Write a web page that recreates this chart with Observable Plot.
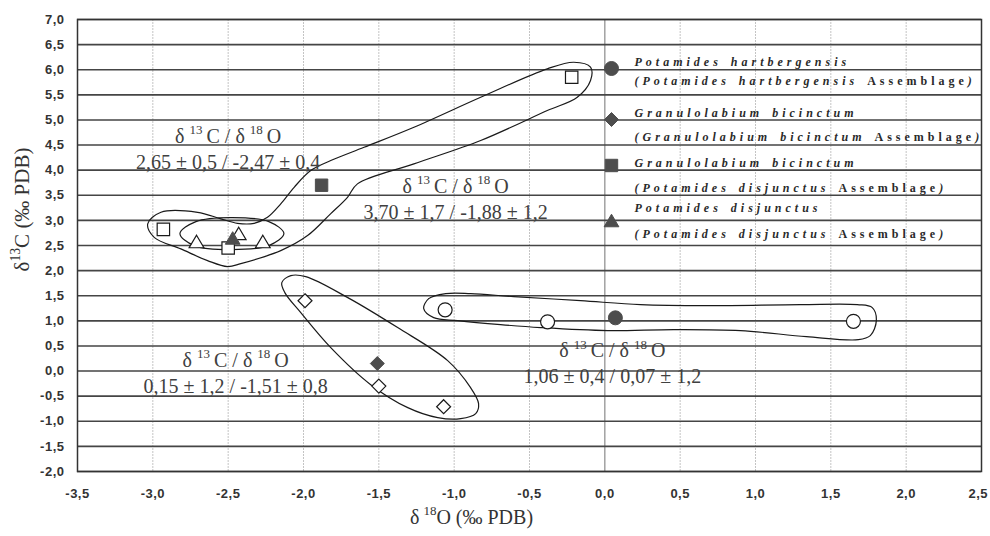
<!DOCTYPE html>
<html><head><meta charset="utf-8">
<script src="https://cdn.jsdelivr.net/npm/d3@7"></script>
<script src="https://cdn.jsdelivr.net/npm/@observablehq/plot@0.6"></script>
<style>html,body{margin:0;padding:0;background:#fff;} #chart{width:990px;height:536px;position:relative;}</style>
</head><body><div id="chart"></div>
<script>
// ---- axes ----
const xTicks = [-3.5,-3.0,-2.5,-2.0,-1.5,-1.0,-0.5,0.0,0.5,1.0,1.5,2.0,2.5];
const yTicks = [-2.0,-1.5,-1.0,-0.5,0.0,0.5,1.0,1.5,2.0,2.5,3.0,3.5,4.0,4.5,5.0,5.5,6.0,6.5,7.0];
const xTitle = "δ\u2009^18O (‰ PDB)";
const yTitle = "δ^13C (‰ PDB)";

// ---- individual samples (open symbols): δ18O, δ13C ----
// Potamides hartbergensis Assemblage (open circles)
const hartbergensisO = [-1.06, -0.38, 1.65];
const hartbergensisC = [1.22, 0.98, 0.99];
// Granulolabium bicinctum Assemblage (open diamonds)
const bicinctumO = [-1.99, -1.50, -1.07];
const bicinctumC = [1.40, -0.30, -0.71];
// Granulolabium bicinctum, Potamides disjunctus Assemblage (open squares)
const bicinctumPdO = [-2.93, -2.50, -0.22];
const bicinctumPdC = [2.82, 2.45, 5.85];
// Potamides disjunctus, Potamides disjunctus Assemblage (open triangles)
const disjunctusO = [-2.71, -2.43, -2.27];
const disjunctusC = [2.58, 2.74, 2.58];

// ---- group means (filled symbols) and SDs ----
const meanGroups = ["P. hartbergensis", "G. bicinctum (G.b.)", "G. bicinctum (P.d.)", "P. disjunctus"];
const meanO = [0.07, -1.51, -1.88, -2.47];
const meanC = [1.06, 0.15, 3.70, 2.65];
const sdO = [1.2, 0.8, 1.2, 0.4];
const sdC = [0.4, 1.2, 1.7, 0.5];
// anchor of each statistics label (data units)
const labelO = [0.05, -2.45, -0.99, -2.50];
const labelC = [0.27, 0.09, 3.55, 4.55];

// ---- hand-drawn group outlines (data units) ----
const loopHartbergensis = [[-1.202,1.243],[-1.169,1.442],[-1.056,1.542],[-0.891,1.542],[-0.605,1.482],[-0.161,1.402],[0.237,1.323],[0.674,1.303],[1.298,1.323],[1.676,1.323],[1.775,1.263],[1.802,1.004],[1.762,0.705],[1.683,0.625],[1.338,0.685],[0.900,0.805],[0.456,0.825],[0.018,0.805],[-0.426,0.865],[-0.692,0.924],[-0.977,1.004],[-1.136,1.064]];
const loopBicinctum = [[-2.144,1.761],[-2.084,1.900],[-1.985,1.880],[-1.706,1.462],[-1.375,0.865],[-1.043,0.207],[-0.891,-0.331],[-0.838,-0.649],[-0.857,-0.849],[-0.957,-0.948],[-1.109,-0.928],[-1.308,-0.729],[-1.554,-0.271],[-1.819,0.466],[-2.018,1.163],[-2.124,1.562]];
const loopBicinctumPd = [[-3.034,2.930],[-2.946,3.161],[-2.703,3.161],[-2.548,3.030],[-2.438,2.942],[-2.328,2.942],[-2.239,3.062],[-2.151,3.329],[-2.062,3.659],[-1.952,3.992],[-1.819,4.191],[-1.598,4.456],[-1.267,4.855],[-0.824,5.452],[-0.382,6.018],[-0.206,6.149],[-0.095,6.050],[-0.095,5.785],[-0.183,5.452],[-0.382,5.187],[-0.824,4.590],[-1.267,4.125],[-1.642,3.727],[-1.708,3.460],[-1.819,3.135],[-1.973,2.697],[-2.151,2.398],[-2.416,2.139],[-2.504,2.080],[-2.637,2.199],[-2.814,2.432],[-2.991,2.663]];
const loopDisjunctus = [[-2.820,2.737],[-2.714,2.976],[-2.482,3.056],[-2.230,2.976],[-2.130,2.737],[-2.230,2.498],[-2.482,2.418],[-2.727,2.498]];

// ---- legend ----
const legendSpecies = ["Potamides hartbergensis", "Granulolabium bicinctum", "Granulolabium bicinctum", "Potamides disjunctus"];
const legendAssemblage = ["Potamides hartbergensis", "Granulolabium bicinctum", "Potamides disjunctus", "Potamides disjunctus"];

// ---- build ----
const fmt1 = d => d.toFixed(1).replace(".", ",");
const fmt2 = d => d.toFixed(2).replace(".", ",");
const pts = (xs, ys) => xs.map((x, i) => ({x, y: ys[i]}));
const loop = a => a.map(([x, y]) => ({x, y}));

const boxTriangle = {draw(ctx, size) {
  const a = Math.sqrt(size), hw = a * 0.8, hh = a * 0.68;
  ctx.moveTo(0, -hh); ctx.lineTo(hw, hh); ctx.lineTo(-hw, hh); ctx.closePath();
}};
const symbols = ["circle", "diamond2", "square", boxTriangle];
const radii = [7, 6.3, 7, 5.2];
const open = {fill: "white", stroke: "#1a1a1a", strokeWidth: 1.2};
const filled = {fill: "#4d4d4d", stroke: "#4d4d4d", strokeWidth: 1};

const means = meanO.map((o, i) => ({
  x: o, y: meanC[i], group: meanGroups[i],
  lx: labelO[i], ly: labelC[i],
  head: "δ ^13\u2009C / δ ^18\u2009O",
  stats: `${fmt2(meanC[i])} ± ${fmt1(sdC[i])} / ${fmt2(o)} ± ${fmt1(sdO[i])}`
}));

const serif = "Liberation Serif, Times New Roman, serif";
const legendLines = [];
const legendMarkerDy = [49, 100, 146, 201];
const legendLine1Dy = [46, 97, 147, 192];
const legendLine2Dy = [65, 121, 172, 218];
const legendMarks = [];
legendSpecies.forEach((sp, i) => {
  legendMarks.push(Plot.dot([0], {frameAnchor: "top-left", dx: 534, dy: legendMarkerDy[i], symbol: symbols[i], r: radii[i], ...filled}));
  const line2 = `(${legendAssemblage[i]} Assemblage)`;
  legendLines.push(sp, line2);
  const ts = {frameAnchor: "top-left", dx: 557, textAnchor: "start", lineAnchor: "bottom", fontFamily: serif,
    fontSize: 12, fontWeight: "bold", fontStyle: "italic", fill: "#2a2a2a", text: d => d};
  legendMarks.push(Plot.text([sp], {...ts, dy: legendLine1Dy[i]}));
  legendMarks.push(Plot.text([line2], {...ts, dy: legendLine2Dy[i]}));
});

const chart = Plot.plot({
  width: 990, height: 536,
  marginLeft: 77, marginRight: 9, marginTop: 19, marginBottom: 65,
  style: {background: "#fff", color: "#333"},
  x: {domain: [-3.5, 2.5], ticks: xTicks, tickFormat: fmt1, tickSize: 0, tickPadding: 17, label: null},
  y: {domain: [-2, 7], ticks: yTicks, tickFormat: fmt1, tickSize: 0, tickPadding: 13, label: null},
  marks: [
    Plot.ruleX(xTicks.filter(d => d !== 0), {stroke: "#c4c4c4", strokeWidth: 1, strokeDasharray: "2,1"}),
    Plot.ruleX([0], {stroke: "#8a8a8a", strokeWidth: 1.2}),
    Plot.ruleY(yTicks, {stroke: "#454545", strokeWidth: 1.6}),
    Plot.frame({stroke: "#333", strokeWidth: 1.5}),
    Plot.line(loop(loopHartbergensis), {x: "x", y: "y", curve: "catmull-rom-closed", stroke: "#1a1a1a", strokeWidth: 1.2}),
    Plot.line(loop(loopBicinctum), {x: "x", y: "y", curve: "catmull-rom-closed", stroke: "#1a1a1a", strokeWidth: 1.2}),
    Plot.line(loop(loopBicinctumPd), {x: "x", y: "y", curve: "catmull-rom-closed", stroke: "#1a1a1a", strokeWidth: 1.2}),
    Plot.line(loop(loopDisjunctus), {x: "x", y: "y", curve: "catmull-rom-closed", stroke: "#1a1a1a", strokeWidth: 1.2}),
    Plot.dot(pts(hartbergensisO, hartbergensisC), {x: "x", y: "y", symbol: symbols[0], r: radii[0], ...open}),
    Plot.dot(pts(bicinctumO, bicinctumC), {x: "x", y: "y", symbol: symbols[1], r: radii[1], ...open}),
    Plot.dot(pts(bicinctumPdO, bicinctumPdC), {x: "x", y: "y", symbol: symbols[2], r: radii[2], ...open}),
    Plot.dot(pts(disjunctusO, disjunctusC), {x: "x", y: "y", symbol: symbols[3], r: radii[3], ...open}),
    ...means.map((m, i) => Plot.dot([m], {x: "x", y: "y", symbol: symbols[i], r: radii[i], ...filled})),
    Plot.text(means, {x: "lx", y: "ly", text: "head", textAnchor: "middle", lineAnchor: "bottom", fontFamily: serif, fontSize: 20, fill: "#404040"}),
    Plot.text(means, {x: "lx", y: "ly", dy: 26, text: "stats", textAnchor: "middle", lineAnchor: "bottom", fontFamily: serif, fontSize: 20, fill: "#404040"}),
    ...legendMarks,
    Plot.text([xTitle], {frameAnchor: "bottom", dx: -58, dy: 52, text: d => d, textAnchor: "middle", lineAnchor: "bottom", fontFamily: serif, fontSize: 20, fill: "#333"}),
    Plot.text([yTitle], {frameAnchor: "left", dx: -55, dy: -36, rotate: -90, text: d => d, textAnchor: "middle", lineAnchor: "middle", fontFamily: serif, fontSize: 21, fill: "#333"})
  ]
});
document.getElementById("chart").appendChild(chart);

// ---- text styling pass ----
const NS = "http://www.w3.org/2000/svg";
const tickRe = /^[-\u2212]?\d,\d$/;
chart.querySelectorAll("text").forEach(el => {
  const s = el.textContent;
  if (tickRe.test(s)) {
    Object.assign(el.style, {fontFamily: "'Liberation Sans', Arial, sans-serif", fontSize: "13px", fontWeight: "bold", fill: "#333", letterSpacing: "0.5px"});
    if (s === "2,5" && el.getAttribute("y") !== "0.32em" && !el.closest('[aria-label*="y-axis"]')) {
      const bb = el.getBBox ? el.getBoundingClientRect() : null;
      if (bb && bb.right > 988) el.setAttribute("dx", String(-(bb.right - 988)));
    }
    return;
  }
  if (legendLines.includes(s)) {
    Object.assign(el.style, {fontFamily: serif, fontSize: "12px", fontWeight: "bold", fontStyle: "italic", letterSpacing: "4px", wordSpacing: "2px"});
    const k = s.indexOf("Assemblage");
    if (k >= 0) {
      el.textContent = "";
      const a = document.createElementNS(NS, "tspan"); a.textContent = s.slice(0, k);
      const b = document.createElementNS(NS, "tspan"); b.textContent = "Assemblage"; b.style.fontStyle = "normal";
      const c = document.createElementNS(NS, "tspan"); c.textContent = s.slice(k + 10);
      el.append(a, b, c);
    }
    return;
  }
  if (s.includes("^")) {
    el.style.fontFamily = serif;
    const fs = parseFloat(getComputedStyle(el).fontSize);
    const parts = s.split(/\^(\d+)/);
    el.textContent = "";
    let raised = false;
    parts.forEach((p, i) => {
      if (!p) return;
      const t = document.createElementNS(NS, "tspan");
      t.textContent = p;
      if (i % 2) { t.style.fontSize = (fs * 0.65).toFixed(1) + "px"; t.setAttribute("dy", (-fs * 0.42).toFixed(1)); raised = true; }
      else if (raised) { t.setAttribute("dy", (fs * 0.42).toFixed(1)); raised = false; }
      el.appendChild(t);
    });
  }
});
</script>
</body></html>
